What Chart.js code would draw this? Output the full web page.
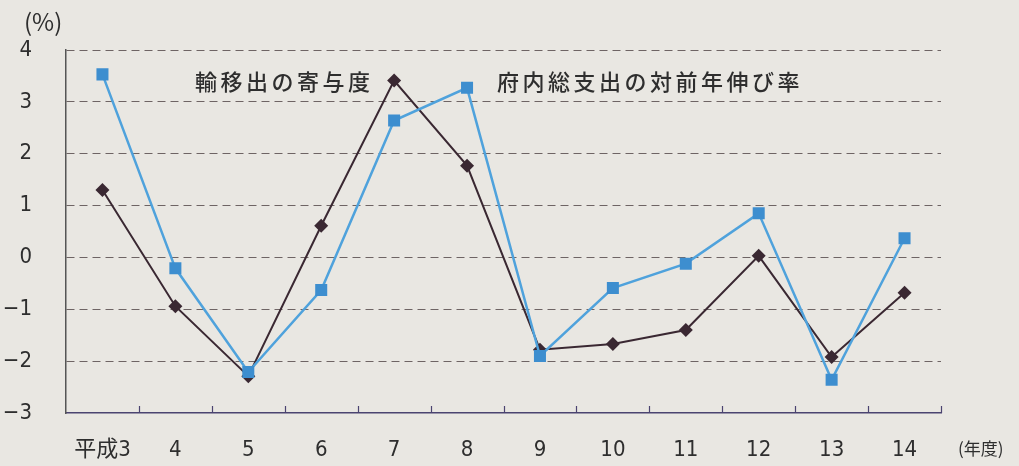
<!DOCTYPE html>
<html><head><meta charset="utf-8">
<script src="https://cdn.jsdelivr.net/npm/chart.js@4"></script>
<style>html,body{margin:0;padding:0;background:#e9e7e2;}canvas{display:block}</style>
</head><body>
<canvas id="c" width="1019" height="466"></canvas>
<script>
const categories = ['平成3','4','5','6','7','8','9','10','11','12','13','14'];
const exportContribution = [1.30,-0.94,-2.29,0.61,3.41,1.77,-1.78,-1.67,-1.40,0.03,-1.92,-0.68];
const grossExpenditureGrowth = [3.53,-0.21,-2.21,-0.63,2.64,3.27,-1.90,-0.59,-0.12,0.85,-2.36,0.37];
const yMin = -3, yMax = 4, yStep = 1;
const seriesLabels = ['輸移出の寄与度','府内総支出の対前年伸び率'];
const unitY = '(%)';
const unitX = '(年度)';

const NUM_FONT = '"Liberation Sans Narrow","DejaVu Sans Condensed","Noto Sans CJK JP",sans-serif';
const JP_FONT = '"Noto Sans CJK JP",sans-serif';

const decor = {
  id: 'decor',
  afterDraw(chart) {
    const {ctx, chartArea: a} = chart;
    ctx.save();
    ctx.strokeStyle = '#4b4470';
    ctx.lineWidth = 1.2;
    const n = categories.length;
    for (let i = 1; i <= n; i++) {
      const px = Math.round(a.left + (a.right - a.left) * i / n) + 0.5;
      ctx.beginPath(); ctx.moveTo(px, a.bottom); ctx.lineTo(px, a.bottom - 7); ctx.stroke();
    }
    ctx.fillStyle = '#2e2e2e';
    ctx.textBaseline = 'middle';
    ctx.textAlign = 'left';
    ctx.font = '24px ' + JP_FONT;
    ctx.fillText(unitY, 24, 22);
    ctx.font = '17px ' + JP_FONT;
    ctx.fillText(unitX, 958, 449);
    ctx.font = '500 22px ' + JP_FONT;
    ctx.letterSpacing = '3.5px';
    ctx.fillText(seriesLabels[0], 195, 82);
    ctx.fillText(seriesLabels[1], 497, 82);
    ctx.restore();
  }
};

new Chart(document.getElementById('c'), {
  type: 'line',
  data: {
    labels: categories,
    datasets: [
      {
        label: seriesLabels[1],
        data: grossExpenditureGrowth,
        borderColor: '#4fa2dc',
        borderWidth: 2.5,
        pointStyle: 'rect',
        pointRadius: 8.5,
        pointBackgroundColor: '#3d8ecf',
        pointBorderColor: '#3d8ecf',
        pointBorderWidth: 0,
        tension: 0,
        order: 0
      },
      {
        label: seriesLabels[0],
        data: exportContribution,
        borderColor: '#3a2832',
        borderWidth: 2,
        pointStyle: 'rectRot',
        pointRadius: 7,
        pointBackgroundColor: '#3a2832',
        pointBorderColor: '#3a2832',
        pointBorderWidth: 0,
        tension: 0,
        order: 1
      }
    ]
  },
  options: {
    responsive: false,
    animation: false,
    layout: {autoPadding: false, padding: {left: 0, top: 50, right: 78, bottom: 0}},
    plugins: {legend: {display: false}, tooltip: {enabled: false}, title: {display: false}},
    scales: {
      x: {
        offset: true,
        grid: {display: false, offset: true},
        border: {display: true, color: '#4b4470', width: 1.5},
        ticks: {color: '#2e2e2e', font: {family: NUM_FONT, size: 22}, padding: 16, maxRotation: 0, autoSkip: false},
        afterFit(s) { s.height = 53; }
      },
      y: {
        min: yMin, max: yMax,
        grid: {
          drawTicks: false,
          color: c => (c.tick && c.tick.value === yMin) ? 'rgba(0,0,0,0)' : '#6e6464',
          lineWidth: 1
        },
        border: {display: true, color: '#555', width: 1.5, dash: [8, 5]},
        ticks: {
          stepSize: yStep,
          color: '#2e2e2e',
          font: {family: NUM_FONT, size: 22},
          padding: 34,
          callback: v => v < 0 ? '−' + Math.abs(v) : String(v)
        },
        afterFit(s) { s.width = 66; }
      }
    }
  },
  plugins: [decor]
});
</script>
</body></html>
